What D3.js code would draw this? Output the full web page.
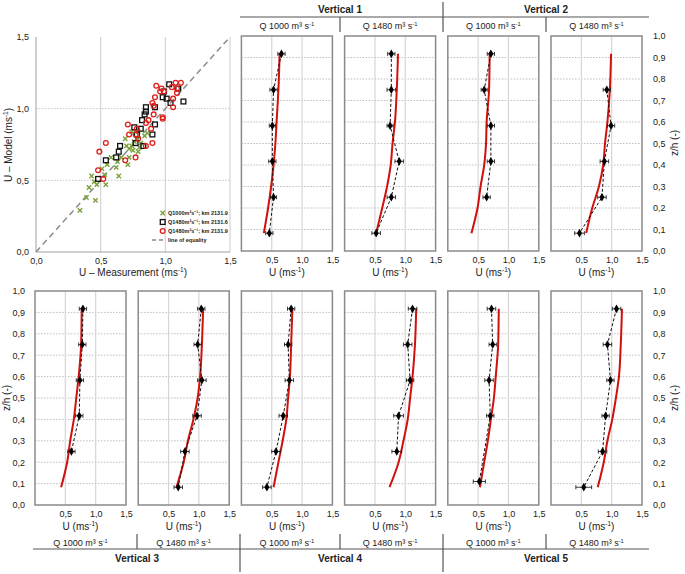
<!DOCTYPE html>
<html>
<head>
<meta charset="utf-8">
<script src="https://cdn.jsdelivr.net/npm/d3@7"></script>
<style>
  body { margin: 0; background: #fff; }
  svg { display: block; font-family: "Liberation Sans", Arial, sans-serif; }
</style>
</head>
<body>
<div id="chart"></div>
<script>
// ---- scatter: model vs measurement ----
const q1000x = [0.34,0.39,0.41,0.43,0.45,0.46,0.47,0.51,0.54,0.53,0.55,0.58,0.62,0.64,0.63,0.66,0.69,0.70,0.72,0.71,0.72,0.74,0.75,0.76,0.78,0.79,0.79,0.80,0.81,0.84,0.74,0.86];
const q1000y = [0.29,0.38,0.45,0.53,0.49,0.36,0.47,0.58,0.47,0.54,0.61,0.66,0.59,0.53,0.63,0.66,0.79,0.74,0.72,0.61,0.66,0.74,0.71,0.77,0.79,0.70,0.84,0.73,0.76,0.81,0.84,0.83];
const q1480ax = [0.48,0.54,0.62,0.64,0.65,0.77,0.76,0.78,0.81,0.82,0.84,0.85,0.85,0.83,0.90,0.92,0.92,0.98,0.99,1.01,1.03,1.04,1.10,1.14];
const q1480ay = [0.51,0.64,0.66,0.70,0.74,0.76,0.87,0.82,0.86,0.92,0.96,0.98,1.01,0.74,0.82,0.89,1.01,1.08,1.12,1.07,1.17,1.04,1.14,1.05];
const q1480bx = [0.49,0.48,0.52,0.54,0.69,0.72,0.71,0.77,0.77,0.78,0.79,0.85,0.85,0.87,0.89,0.90,0.90,0.91,0.91,0.92,0.93,0.96,0.97,0.98,0.98,0.99,1.05,1.06,1.06,1.08,1.09,1.12,1.09];
const q1480by = [0.70,0.57,0.51,0.76,0.64,0.82,0.89,0.66,0.82,0.86,0.79,0.74,0.90,0.92,0.86,0.76,1.04,1.02,0.96,1.08,1.16,1.12,1.14,0.93,0.94,1.12,1.15,1.07,1.01,1.18,1.11,1.18,1.14];
const legendLabels = ["Q1000m³s⁻¹; km 2131.9", "Q1480m³s⁻¹; km 2131.6", "Q1480m³s⁻¹; km 2131.9", "line of equality"];

// ---- velocity profiles ----
const measZ = [0.917, 0.75, 0.583, 0.417, 0.25, 0.083];
const measZ5 = [0.917, 0.75, 0.583, 0.417, 0.25, 0.11];
const modelZ = [0.083, 0.2, 0.3, 0.4, 0.5, 0.6, 0.75, 0.917];

const v1q1000Meas = [0.66, 0.53, 0.51, 0.51, 0.53, 0.46];
const v1q1480Meas = [0.77, 0.77, 0.75, 0.90, 0.77, 0.52];
const v2q1000Meas = [0.71, 0.60, 0.71, 0.71, 0.64, null];
const v2q1480Meas = [null, 0.92, 0.99, 0.88, 0.84, 0.47];
const v3q1000Meas = [0.79, 0.78, 0.74, 0.73, 0.60, null];
const v3q1480Meas = [1.04, 0.98, 1.05, 0.97, 0.77, 0.66];
const v4q1000Meas = [0.82, 0.77, 0.79, 0.69, 0.57, 0.42];
const v4q1480Meas = [1.12, 1.04, 1.08, 0.89, 0.86, null];
const v5q1000Meas = [0.72, 0.74, 0.68, 0.70, null, 0.52];
const v5q1480Meas = [1.08, 0.93, 0.98, 0.90, 0.85, 0.54];

const v1q1000Err = [0.06, 0.06, 0.05, 0.06, 0.05, 0.06];
const v1q1480Err = [0.06, 0.07, 0.05, 0.07, 0.07, 0.07];
const v2q1000Err = [0.06, 0.05, 0.06, 0.06, 0.06, 0];
const v2q1480Err = [0, 0.06, 0.06, 0.07, 0.07, 0.08];
const v3q1000Err = [0.06, 0.06, 0.06, 0.06, 0.06, 0];
const v3q1480Err = [0.06, 0.06, 0.07, 0.07, 0.07, 0.07];
const v4q1000Err = [0.06, 0.06, 0.07, 0.07, 0.07, 0.07];
const v4q1480Err = [0.07, 0.07, 0.06, 0.08, 0.08, 0];
const v5q1000Err = [0.07, 0.06, 0.07, 0.06, 0, 0.10];
const v5q1480Err = [0.07, 0.07, 0.06, 0.06, 0.07, 0.13];

const v1q1000Model = [0.37, 0.44, 0.49, 0.53, 0.56, 0.58, 0.61, 0.63];
const v1q1480Model = [0.52, 0.62, 0.70, 0.76, 0.79, 0.83, 0.86, 0.88];
const v2q1000Model = [0.39, 0.49, 0.54, 0.60, 0.63, 0.64, 0.68, 0.69];
const v2q1480Model = [0.58, 0.68, 0.79, 0.86, 0.89, 0.93, 0.97, 0.99];
const v3q1000Model = [0.43, 0.53, 0.58, 0.64, 0.68, 0.72, 0.76, 0.77];
const v3q1480Model = [0.63, 0.75, 0.82, 0.91, 0.98, 1.02, 1.05, 1.07];
const v4q1000Model = [0.53, 0.61, 0.68, 0.74, 0.77, 0.80, 0.82, 0.84];
const v4q1480Model = [0.74, 0.89, 0.97, 1.04, 1.08, 1.12, 1.16, 1.18];
const v5q1000Model = [0.53, 0.60, 0.66, 0.71, 0.76, 0.79, 0.83, 0.84];
const v5q1480Model = [0.77, 0.87, 0.93, 1.01, 1.07, 1.12, 1.15, 1.17];

const xTicks = [0.5, 1.0, 1.5];
const zTicks = [0, 0.1, 0.2, 0.3, 0.4, 0.5, 0.6, 0.7, 0.8, 0.9, 1.0];

// layout
const W = 685, H = 574;
const colLeft = i => 35 + i * 103.2;
const panelW = 91;
const rows = [[36, 251], [291, 505]];
const fmt = d => d3.format(".1f")(d).replace(".", ",");
const frameCol = "#8a8a8a";

const svg = d3.select("#chart").append("svg").attr("width", W).attr("height", H);

// text with a "-1" superscript: prefix + sup + suffix
function supText(sel, prefix, sup, suffix, size) {
  sel.append("tspan").text(prefix);
  sel.append("tspan").attr("font-size", size * 0.65).attr("dy", -size * 0.38).text(sup);
  sel.append("tspan").attr("dy", size * 0.38).text(suffix);
  return sel;
}

function styleAxis(g) {
  g.select(".domain").remove();
  g.selectAll("text").attr("font-size", 9).attr("fill", "#222").attr("font-family", "Liberation Sans, Arial, sans-serif");
}

// ---- scatter ----
const sx = d3.scaleLinear().domain([0, 1.5]).range([36, 230]);
const sy = d3.scaleLinear().domain([0, 1.5]).range([252, 37]);

svg.append("g").selectAll("line").data([0.5, 1.0, 1.5]).join("line")
  .attr("x1", d => sx(d)).attr("x2", d => sx(d)).attr("y1", sy(0)).attr("y2", sy(1.5))
  .attr("stroke", "#d4d4d4").attr("stroke-width", 1.2);
svg.append("g").selectAll("line").data([0.5, 1.0]).join("line")
  .attr("x1", sx(0)).attr("x2", sx(1.5)).attr("y1", d => sy(d)).attr("y2", d => sy(d))
  .attr("stroke", "#c8c8c8").attr("stroke-dasharray", "1.5,1.5");
svg.append("line").attr("x1", sx(0)).attr("x2", sx(0)).attr("y1", sy(0)).attr("y2", sy(1.5)).attr("stroke", "#a0a0a0");
svg.append("line").attr("x1", sx(0)).attr("x2", sx(1.5)).attr("y1", sy(0)).attr("y2", sy(0)).attr("stroke", "#a0a0a0");

svg.append("g").attr("transform", `translate(0,${sy(0)})`)
  .call(d3.axisBottom(sx).tickValues([0, 0.5, 1.0, 1.5]).tickSize(0).tickPadding(6).tickFormat(fmt))
  .call(styleAxis);
svg.append("g").attr("transform", `translate(${sx(0) - 1},0)`)
  .call(d3.axisLeft(sy).tickValues([0, 0.5, 1.0, 1.5]).tickSize(0).tickPadding(6).tickFormat(fmt))
  .call(styleAxis);

// line of equality
svg.append("line").attr("x1", sx(0)).attr("y1", sy(0)).attr("x2", sx(1.5)).attr("y2", sy(1.5))
  .attr("stroke", "#8c8c8c").attr("stroke-width", 1.5).attr("stroke-dasharray", "6,4");

const q1000 = q1000x.map((d, i) => [d, q1000y[i]]);
const q1480a = q1480ax.map((d, i) => [d, q1480ay[i]]);
const q1480b = q1480bx.map((d, i) => [d, q1480by[i]]);
const cross = d3.symbol().type(d3.symbolX).size(14);

svg.append("g").selectAll("path").data(q1000).join("path")
  .attr("d", cross).attr("transform", d => `translate(${sx(d[0])},${sy(d[1])})`)
  .attr("stroke", "#7aa23a").attr("stroke-width", 1.4).attr("fill", "none");
svg.append("g").selectAll("rect").data(q1480a).join("rect")
  .attr("x", d => sx(d[0]) - 2.4).attr("y", d => sy(d[1]) - 2.4).attr("width", 4.8).attr("height", 4.8)
  .attr("fill", "none").attr("stroke", "#111").attr("stroke-width", 1.3);
svg.append("g").selectAll("circle").data(q1480b).join("circle")
  .attr("cx", d => sx(d[0])).attr("cy", d => sy(d[1])).attr("r", 2.4)
  .attr("fill", "none").attr("stroke", "#e0201b").attr("stroke-width", 1.3);

// legend
const lg = svg.append("g").attr("font-size", 5.5).attr("fill", "#222");
const legY = [213, 222, 231, 240];
lg.append("path").attr("d", cross).attr("transform", `translate(162.7,${legY[0]})`)
  .attr("stroke", "#7aa23a").attr("stroke-width", 1.4).attr("fill", "none");
lg.append("rect").attr("x", 160.3).attr("y", legY[1] - 2.4).attr("width", 4.8).attr("height", 4.8)
  .attr("fill", "none").attr("stroke", "#111").attr("stroke-width", 1.3);
lg.append("circle").attr("cx", 162.7).attr("cy", legY[2]).attr("r", 2.4)
  .attr("fill", "none").attr("stroke", "#e0201b").attr("stroke-width", 1.3);
lg.append("line").attr("x1", 152).attr("x2", 164).attr("y1", legY[3]).attr("y2", legY[3])
  .attr("stroke", "#8c8c8c").attr("stroke-width", 1.5).attr("stroke-dasharray", "4,3");
lg.selectAll("text").data(legendLabels).join("text")
  .attr("x", 168).attr("y", (d, i) => legY[i] + 2).attr("font-weight", "bold").text(d => d);

// scatter axis titles
supText(svg.append("text").attr("x", 133).attr("y", 276).attr("text-anchor", "middle").attr("font-size", 10).attr("fill", "#222"),
  "U – Measurement (ms", "-1", ")", 10);
supText(svg.append("text").attr("transform", "translate(12,145) rotate(-90)").attr("text-anchor", "middle").attr("font-size", 10).attr("fill", "#222"),
  "U – Model (ms", "-1", ")", 10);

// ---- profile panels ----
function profile(col, row, zMeas, meas, err, model) {
  const left = colLeft(col), right = left + panelW;
  const [top, bot] = rows[row];
  const x = d3.scaleLinear().domain([0, 1.5]).range([left, right]);
  const y = d3.scaleLinear().domain([0, 1]).range([bot, top]);
  const g = svg.append("g");

  g.append("g").selectAll("line").data(zTicks.slice(1, 10)).join("line")
    .attr("x1", left).attr("x2", right).attr("y1", d => y(d)).attr("y2", d => y(d))
    .attr("stroke", "#bdbdbd").attr("stroke-dasharray", "1.5,1.5");
  g.append("g").selectAll("line").data([0.5, 1.0]).join("line")
    .attr("x1", d => x(d)).attr("x2", d => x(d)).attr("y1", top).attr("y2", bot)
    .attr("stroke", "#d6d6d6").attr("stroke-width", 1.2);
  g.append("rect").attr("x", left).attr("y", top).attr("width", panelW).attr("height", bot - top)
    .attr("fill", "none").attr("stroke", frameCol).attr("stroke-width", 1.5);

  g.append("g").attr("transform", `translate(0,${bot})`)
    .call(d3.axisBottom(x).tickValues(xTicks).tickSize(0).tickPadding(6).tickFormat(fmt))
    .call(styleAxis);
  supText(g.append("text").attr("x", (left + right) / 2).attr("y", bot + 25)
    .attr("text-anchor", "middle").attr("font-size", 10).attr("fill", "#222"), "U (ms", "-1", ")", 10);

  // model
  g.append("path").datum(modelZ.map((z, i) => [model[i], z]))
    .attr("d", d3.line().x(d => x(d[0])).y(d => y(d[1])).curve(d3.curveMonotoneY))
    .attr("fill", "none").attr("stroke", "#d0100c").attr("stroke-width", 2);

  // measurements
  const pts = zMeas.map((z, i) => ({ z, u: meas[i], e: err[i] })).filter(d => d.u !== null);
  g.append("path").datum(pts)
    .attr("d", d3.line().x(d => x(d.u)).y(d => y(d.z)))
    .attr("fill", "none").attr("stroke", "#111").attr("stroke-width", 1).attr("stroke-dasharray", "3,2");
  const eb = g.append("g").attr("stroke", "#222").attr("stroke-width", 0.9);
  eb.selectAll(".bar").data(pts).join("line").attr("class", "bar")
    .attr("x1", d => x(d.u - d.e)).attr("x2", d => x(d.u + d.e)).attr("y1", d => y(d.z)).attr("y2", d => y(d.z));
  eb.selectAll(".capl").data(pts).join("line").attr("class", "capl")
    .attr("x1", d => x(d.u - d.e)).attr("x2", d => x(d.u - d.e)).attr("y1", d => y(d.z) - 2).attr("y2", d => y(d.z) + 2);
  eb.selectAll(".capr").data(pts).join("line").attr("class", "capr")
    .attr("x1", d => x(d.u + d.e)).attr("x2", d => x(d.u + d.e)).attr("y1", d => y(d.z) - 2).attr("y2", d => y(d.z) + 2);
  g.append("g").selectAll("path").data(pts).join("path")
    .attr("d", d3.symbol().type(d3.symbolDiamond).size(22))
    .attr("transform", d => `translate(${x(d.u)},${y(d.z)})`).attr("fill", "#000");
  return y;
}

profile(2, 0, measZ, v1q1000Meas, v1q1000Err, v1q1000Model);
profile(3, 0, measZ, v1q1480Meas, v1q1480Err, v1q1480Model);
profile(4, 0, measZ, v2q1000Meas, v2q1000Err, v2q1000Model);
const yTop = profile(5, 0, measZ, v2q1480Meas, v2q1480Err, v2q1480Model);
const yBotL = profile(0, 1, measZ, v3q1000Meas, v3q1000Err, v3q1000Model);
profile(1, 1, measZ, v3q1480Meas, v3q1480Err, v3q1480Model);
profile(2, 1, measZ, v4q1000Meas, v4q1000Err, v4q1000Model);
profile(3, 1, measZ, v4q1480Meas, v4q1480Err, v4q1480Model);
profile(4, 1, measZ5, v5q1000Meas, v5q1000Err, v5q1000Model);
const yBotR = profile(5, 1, measZ, v5q1480Meas, v5q1480Err, v5q1480Model);

// z/h axes
const rightX = colLeft(5) + panelW + 5;
[yTop, yBotR].forEach(y => {
  svg.append("g").attr("transform", `translate(${rightX},0)`)
    .call(d3.axisRight(y).tickValues(zTicks).tickSize(0).tickPadding(6).tickFormat(fmt)).call(styleAxis);
});
svg.append("g").attr("transform", `translate(${colLeft(0) - 4},0)`)
  .call(d3.axisLeft(yBotL).tickValues(zTicks).tickSize(0).tickPadding(6).tickFormat(fmt)).call(styleAxis);

[[678, 143], [678, 398]].forEach(p => {
  svg.append("text").attr("transform", `translate(${p[0]},${p[1]}) rotate(-90)`)
    .attr("text-anchor", "middle").attr("font-size", 10).attr("fill", "#222").text("z/h (-)");
});
svg.append("text").attr("transform", "translate(10,398) rotate(-90)")
  .attr("text-anchor", "middle").attr("font-size", 10).attr("fill", "#222").text("z/h (-)");

// ---- header / footer labels ----
const qLabels = ["Q 1000 m³ s", "Q 1480 m³ s"];
const colCenter = i => colLeft(i) + panelW / 2;
const lineCol = "#555";

// top
svg.append("line").attr("x1", 240).attr("x2", 649).attr("y1", 17).attr("y2", 17).attr("stroke", lineCol).attr("stroke-width", 1.2);
svg.append("line").attr("x1", 443).attr("x2", 443).attr("y1", 2).attr("y2", 32).attr("stroke", lineCol).attr("stroke-width", 1.2);
[340, 546].forEach(xv => svg.append("line").attr("x1", xv).attr("x2", xv).attr("y1", 17).attr("y2", 32).attr("stroke", lineCol).attr("stroke-width", 1.2));
[["Vertical 1", 340], ["Vertical 2", 546]].forEach(d =>
  svg.append("text").attr("x", d[1]).attr("y", 13).attr("text-anchor", "middle").attr("font-size", 10)
    .attr("font-weight", "bold").attr("fill", "#222").text(d[0]));
[2, 3, 4, 5].forEach((c, i) =>
  supText(svg.append("text").attr("x", colCenter(c)).attr("y", 29).attr("text-anchor", "middle")
    .attr("font-size", 9).attr("fill", "#222"), qLabels[i % 2], "-1", "", 9));

// bottom
svg.append("line").attr("x1", 33).attr("x2", 649).attr("y1", 549).attr("y2", 549).attr("stroke", lineCol).attr("stroke-width", 1.2);
[240, 443].forEach(xv => svg.append("line").attr("x1", xv).attr("x2", xv).attr("y1", 534).attr("y2", 572).attr("stroke", lineCol).attr("stroke-width", 1.2));
[137, 340, 546].forEach(xv => svg.append("line").attr("x1", xv).attr("x2", xv).attr("y1", 534).attr("y2", 549).attr("stroke", lineCol).attr("stroke-width", 1.2));
[0, 1, 2, 3, 4, 5].forEach(c =>
  supText(svg.append("text").attr("x", colCenter(c)).attr("y", 546).attr("text-anchor", "middle")
    .attr("font-size", 9).attr("fill", "#222"), qLabels[c % 2], "-1", "", 9));
[["Vertical 3", 137], ["Vertical 4", 340], ["Vertical 5", 546]].forEach(d =>
  svg.append("text").attr("x", d[1]).attr("y", 562).attr("text-anchor", "middle").attr("font-size", 10)
    .attr("font-weight", "bold").attr("fill", "#222").text(d[0]));
</script>
</body>
</html>
